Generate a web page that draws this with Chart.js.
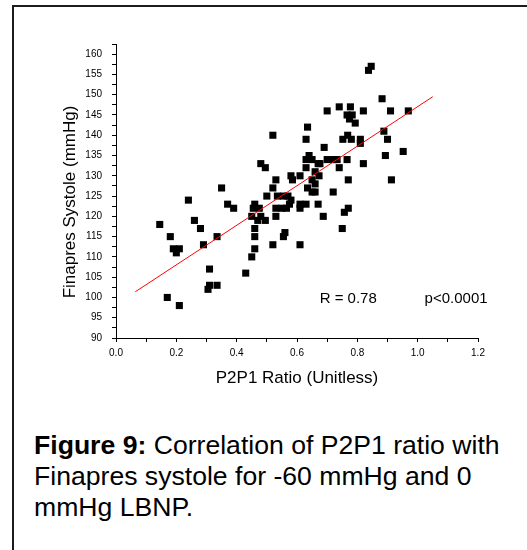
<!DOCTYPE html>
<html>
<head>
<meta charset="utf-8">
<script src="https://cdn.jsdelivr.net/npm/chart.js@4.4.1/dist/chart.umd.min.js"></script>
<style>
  html, body { margin: 0; padding: 0; background: #fff; }
  body { width: 527px; height: 550px; position: relative; overflow: hidden; font-family: Arial, "Liberation Sans", sans-serif; }
  .frame { position: absolute; left: 12px; top: 5px; width: 600px; height: 600px; border-left: 2px solid #1c1c1c; border-top: 2px solid #1c1c1c; }
  #wrap { position: absolute; left: 0; top: 0; width: 527px; height: 400px; }
  .caption { position: absolute; left: 34px; top: 430px; font-size: 26.6px; line-height: 31px; color: #000; white-space: nowrap; }
</style>
</head>
<body>
<div class="frame"></div>
<div id="wrap"><canvas id="scatter" width="527" height="400"></canvas></div>
<div class="caption"><b>Figure 9:</b> Correlation of P2P1 ratio with<br>Finapres systole for -60 mmHg and 0<br>mmHg LBNP.</div>
<script>
// P2P1 ratio (x) vs Finapres systole in mmHg (y)
const ratio = [
  0.145, 0.18, 0.19, 0.20, 0.21, 0.17, 0.21, 0.24, 0.26, 0.28,
  0.29, 0.335, 0.31, 0.305, 0.31, 0.335, 0.35, 0.37, 0.39, 0.43,
  0.45, 0.46, 0.46, 0.46, 0.45, 0.46, 0.455, 0.475, 0.47, 0.48,
  0.495, 0.48, 0.495, 0.5, 0.52, 0.52, 0.52, 0.53, 0.53, 0.535,
  0.53, 0.55, 0.555, 0.56, 0.555, 0.57, 0.565, 0.575, 0.58, 0.58,
  0.585, 0.61, 0.61, 0.61, 0.61, 0.63, 0.63, 0.635, 0.63, 0.63,
  0.635, 0.64, 0.65, 0.65, 0.65, 0.66, 0.66, 0.66, 0.67, 0.673,
  0.676, 0.67, 0.687, 0.69, 0.70, 0.70, 0.72, 0.733, 0.72, 0.74,
  0.74, 0.75, 0.752, 0.757, 0.766, 0.768, 0.77, 0.77, 0.766, 0.777,
  0.774, 0.783, 0.78, 0.793, 0.81, 0.81, 0.82, 0.82, 0.837, 0.846,
  0.882, 0.888, 0.893, 0.9, 0.91, 0.913, 0.952, 0.969
];
const systole = [
  118, 115, 112, 111, 112, 100, 98, 124, 119, 117,
  113, 115, 107, 102, 103, 103, 127, 123, 122, 106,
  110, 112, 115, 117, 120, 123, 122, 122, 119, 120,
  119, 133, 132, 125, 113, 140, 127, 129, 120, 125,
  122, 122, 125, 116, 115, 125, 122, 123, 124, 130,
  129, 130, 113, 122, 123, 123, 139, 142, 134, 132,
  127, 135, 126, 129, 134, 131, 128, 126, 133, 130,
  133, 123, 120, 137, 146, 134, 134, 134, 126, 132,
  147, 117, 139, 121, 134, 140, 129, 122, 145, 147,
  144, 145, 139, 143, 139, 138, 146, 133, 156, 157,
  149, 141, 135, 139, 146, 129, 136, 146
];

// linear fit end points
const fitX = [0.064, 1.05];
const fitY = [101.4, 149.5];

const annotText = ['R = 0.78', 'p<0.0001'];
const annotX = [0.675, 1.023];
const annotY = [99.6, 99.6];

const xTitle = 'P2P1 Ratio (Unitless)';
const yTitle = 'Finapres Systole (mmHg)';

const FONT = 'Arial, "Liberation Sans", sans-serif';

const textPlugin = {
  id: 'textPlugin',
  afterDraw(chart) {
    const { ctx, chartArea, scales } = chart;
    ctx.save();
    ctx.fillStyle = '#000';
    ctx.textBaseline = 'middle';
    ctx.font = '15px ' + FONT;
    ctx.textAlign = 'left';
    annotText.forEach((t, i) => {
      ctx.fillText(t, scales.x.getPixelForValue(annotX[i]), scales.y.getPixelForValue(annotY[i]));
    });
    ctx.font = '17px ' + FONT;
    ctx.textAlign = 'center';
    ctx.fillText(xTitle, (chartArea.left + chartArea.right) / 2, chartArea.bottom + 40);
    ctx.translate(chartArea.left - 46, chartArea.top + 158);
    ctx.rotate(-Math.PI / 2);
    ctx.fillText(yTitle, 0, 0);
    ctx.restore();
  }
};

const axisGrid = { display: true, drawOnChartArea: false, drawTicks: true, tickLength: 4, color: '#000', tickColor: '#000' };

new Chart(document.getElementById('scatter'), {
  type: 'scatter',
  data: {
    datasets: [
      {
        type: 'line',
        data: fitX.map((x, i) => ({ x: x, y: fitY[i] })),
        borderColor: '#ff0000', borderWidth: 1, pointRadius: 0, fill: false, tension: 0
      },
      {
        data: ratio.map((x, i) => ({ x: x, y: systole[i] })),
        pointStyle: 'rect', pointRadius: 5, borderWidth: 0,
        backgroundColor: '#000', borderColor: '#000'
      }
    ]
  },
  options: {
    responsive: false, animation: false, devicePixelRatio: 1,
    layout: { padding: { left: 0, right: 49, top: 44, bottom: 0 } },
    plugins: { legend: { display: false }, tooltip: { enabled: false } },
    scales: {
      x: {
        type: 'linear', min: 0, max: 1.2,
        grid: axisGrid,
        border: { display: true, color: '#000', width: 1 },
        afterFit: (s) => { s.height = 62; },
        ticks: {
          stepSize: 0.1, autoSkip: false, maxRotation: 0, padding: 5, color: '#000',
          font: { size: 10, family: FONT },
          callback: (v) => (Math.round(v * 10) % 2 === 0 ? v.toFixed(1) : '')
        }
      },
      y: {
        type: 'linear', min: 90, max: 162.5,
        grid: axisGrid,
        border: { display: true, color: '#000', width: 1 },
        afterFit: (s) => { s.width = 116; },
        ticks: {
          stepSize: 2.5, autoSkip: false, padding: 10, color: '#000',
          font: { size: 10, family: FONT },
          callback: (v) => (v % 5 === 0 ? String(v) : '')
        }
      }
    }
  },
  plugins: [textPlugin]
});
</script>
</body>
</html>
